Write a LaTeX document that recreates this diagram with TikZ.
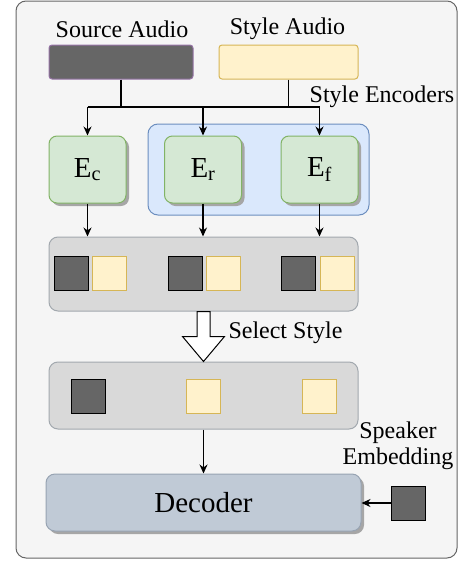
\documentclass[tikz,border=0pt]{standalone}
\usepackage{fontspec}
\setmainfont{Liberation Serif}
\usepackage{xcolor}
\usepackage{tikz}
\usetikzlibrary{shapes,backgrounds,calc,shadows,arrows.meta}

\definecolor{outerfill}{HTML}{F5F5F5}
\definecolor{outerline}{HTML}{666666}
\definecolor{darkfill}{HTML}{666666}
\definecolor{purpline}{HTML}{9673A6}
\definecolor{yelfill}{HTML}{FFF2CC}
\definecolor{yelline}{HTML}{D6B656}
\definecolor{grnfill}{HTML}{D5E8D4}
\definecolor{grnline}{HTML}{82B366}
\definecolor{blufill}{HTML}{DAE8FC}
\definecolor{bluline}{HTML}{6C8EBF}
\definecolor{grayfill}{HTML}{D9D9D9}
\definecolor{grayline}{HTML}{A2A8AE}
\definecolor{decfill}{HTML}{C0CAD6}
\definecolor{decline}{HTML}{97A3B2}

\begin{document}
\begin{tikzpicture}[x=1pt,y=-1pt,line width=1pt]
        \tikzstyle{lbl}=[font=\rmfamily\fontsize{24}{27}\selectfont, align=center, inner sep=0pt];
        \tikzstyle{bar}=[rounded corners=3pt, minimum height=34pt, inner sep=0pt];
        \tikzstyle{enc}=[draw=grnline, fill=grnfill, rounded corners=8pt, minimum width=77pt, minimum height=67pt, inner sep=0pt, font=\rmfamily\fontsize{29}{32}\selectfont, drop shadow={shadow xshift=3pt, shadow yshift=-3pt, fill=gray!70, opacity=1}];
        \tikzstyle{group}=[draw=grayline, fill=grayfill, rounded corners=9pt, minimum width=309pt, inner sep=0pt];
        \tikzstyle{darksq}=[draw=black, fill=darkfill, minimum size=34pt, inner sep=0pt];
        \tikzstyle{yelsq}=[draw=yelline, fill=yelfill, minimum size=34pt, inner sep=0pt];
        \tikzstyle{conn}=[line width=1.3pt, -{Stealth[length=9pt,width=8pt]}];
        \useasboundingbox (0,0) rectangle (461,565);

        % Draw the outer panel
        \draw[outerline, fill=outerfill, rounded corners=10pt] (16,1) rectangle (457,558);

        % Inputs
        \node[bar, draw=purpline, fill=darkfill, minimum width=144pt] (src) at (121,62) {};
        \node[bar, draw=yelline, fill=yelfill, minimum width=139pt] (sty) at (288.5,62) {};
        \node[lbl] (srclbl) at (122,29) {Source Audio};
        \node[lbl] (stylbl) at (287.5,29) {Style Audio};

        % Style encoder group and the three encoders
        \node[draw=bluline, fill=blufill, rounded corners=10pt, minimum width=221pt, minimum height=91pt] (grp) at (258.5,169.5) {};
        \node[lbl] (grplbl) at (382,97) {Style Encoders};
        \node[enc] (ec) at (87.5,169.5) {E\textsubscript{c}};
        \node[enc] (er) at (203,169.5) {E\textsubscript{r}};
        \node[enc] (ef) at (319.5,169.5) {E\textsubscript{f}};

        % Split the inputs to the encoders
        \coordinate (jl) at (87.5,107);
        \coordinate (jm) at (203,107);
        \coordinate (jr) at (319.5,107);
        \draw[line width=1.3pt] (src.south) -- (src.south |- jl);
        \draw[line width=1.3pt] (sty.south) -- (sty.south |- jl);
        \draw[line width=1.3pt] (jl) -- (jr);
        \draw[conn] (jl) -- (ec.north);
        \draw[conn] (jm) -- (er.north);
        \draw[conn] (jr) -- (ef.north);

        % Encoded features
        \node[group, minimum height=74pt] (feat) at (203.5,274) {};
        \node[darksq] (fc1) at (71,273.5) {};
        \node[yelsq] (fc2) at (109.5,273.5) {};
        \node[darksq] (fr1) at (185,273.5) {};
        \node[yelsq] (fr2) at (223,273.5) {};
        \node[darksq] (ff1) at (298.5,273.5) {};
        \node[yelsq] (ff2) at (337,273.5) {};
        \draw[conn] (ec) -- (ec |- feat.north);
        \draw[conn] (er) -- (er |- feat.north);
        \draw[conn] (ef) -- (ef |- feat.north);

        % Selected features
        \node[group, minimum height=67pt] (sel) at (203.5,395.5) {};
        \node[darksq] (sc) at (88,396) {};
        \node[yelsq] (sr) at (203.5,396) {};
        \node[yelsq] (sf) at (319.5,396) {};

        % Hollow arrow for the selection step
        \coordinate (hs) at (feat.south);
        \coordinate (he) at (sel.north);
        \draw[fill=white] ($(hs)+(-6.5,0)$) -- ($(hs)+(-6.5,25)$) -- ($(hs)+(-21,25)$) -- (he)
            -- ($(hs)+(21,25)$) -- ($(hs)+(6.5,25)$) -- ($(hs)+(6.5,0)$) -- cycle;
        \node[lbl, anchor=west] (sellbl) at (228,333) {Select Style};

        % Decoder and speaker embedding
        \node[draw=decline, fill=decfill, rounded corners=9pt, minimum width=315pt, minimum height=57pt, inner sep=0pt, font=\rmfamily\fontsize{29}{32}\selectfont, drop shadow={shadow xshift=3pt, shadow yshift=-3pt, fill=gray!70, opacity=1}] (dec) at (203.5,502.5) {Decoder};
        \node[darksq] (spk) at (408,503) {};
        \node[lbl] (spklbl) at (398,446) {Speaker\\[-1pt]Embedding};
        \draw[conn] (sel) -- (dec.north);
        \draw[conn] (spk) -- (spk -| dec.east);
    \end{tikzpicture}
\end{document}
